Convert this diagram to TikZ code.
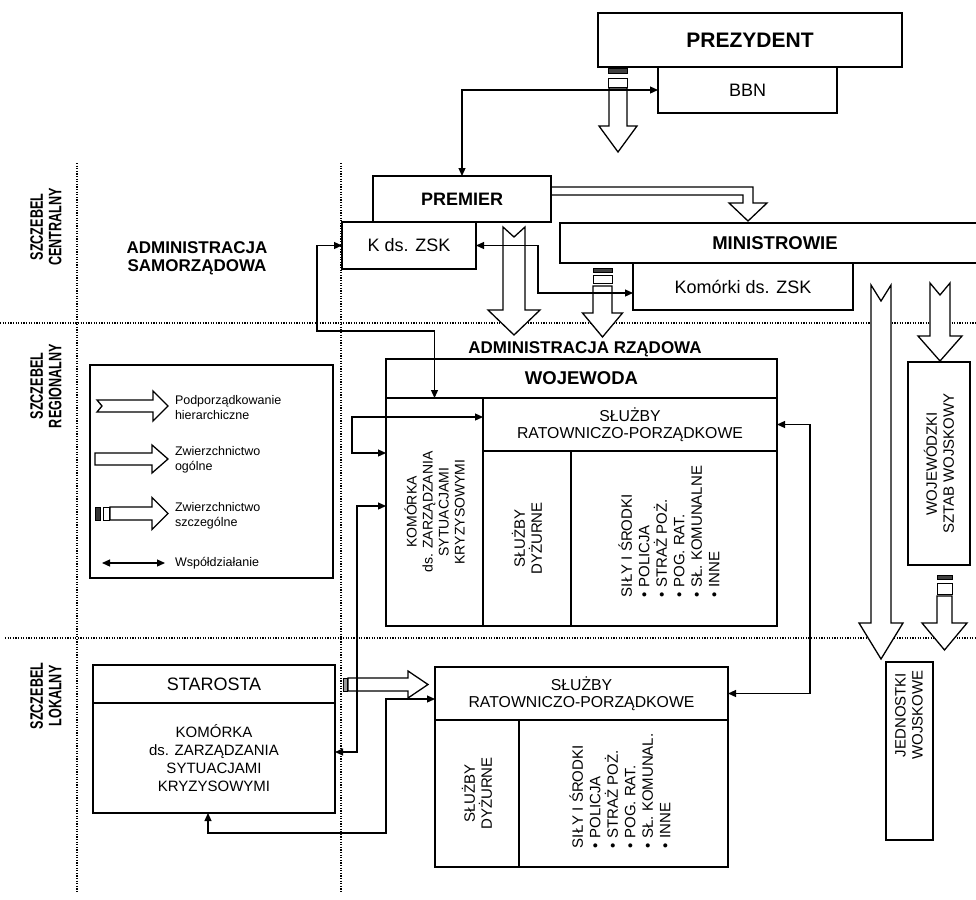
\documentclass[tikz,border=0pt]{standalone}
\usepackage{fontspec}
\setmainfont{Liberation Sans}
\usepackage{graphicx}
\usetikzlibrary{arrows.meta,calc}
\newcommand\fsz[2]{\fontsize{#1}{#2}\selectfont}
% vertical hollow arrow: x, ytop, yhead, ytip, half shaft, half head, notch
\newcommand\varrow[7]{\draw[bigarrow] ({#1-#5},#2) -- ({#1},{#2+#7}) -- ({#1+#5},#2) -- ({#1+#5},#3) -- ({#1+#6},#3) -- (#1,#4) -- ({#1-#6},#3) -- ({#1-#5},#3) -- cycle;}
% horizontal hollow arrow: y, xtail, xhead, xtip, half shaft, half head, notch
\newcommand\harrow[7]{\draw[bigarrow] (#2,{#1-#5}) -- ({#2+#7},#1) -- (#2,{#1+#5}) -- (#3,{#1+#5}) -- (#3,{#1+#6}) -- (#4,#1) -- (#3,{#1-#6}) -- (#3,{#1-#5}) -- cycle;}
% special-authority marks above a vertical arrow: x, half width, bar top, bar bottom, rect top, rect bottom
\newcommand\vmarks[6]{\draw[line width=1pt, fill=black!75] ({#1-#2},#3) rectangle ({#1+#2},#4);
  \draw[line width=1pt, fill=white] ({#1-#2},#5) rectangle ({#1+#2},#6);}
\newcommand\cond[1]{\scalebox{0.7}[1]{#1}}
\begin{document}
\begin{tikzpicture}[x=1pt,y=-1pt,
  box/.style={draw, fill=white, line width=1.5pt, inner sep=0pt, outer sep=0pt, anchor=north west, align=center},
  thickbox/.style={box, line width=2.3pt},
  midbox/.style={box, line width=1.9pt},
  outline/.style={draw, line width=2.3pt, inner sep=0pt, outer sep=0pt, anchor=north west},
  bigarrow/.style={draw, fill=white, line width=1.3pt, line join=miter},
  coop/.style={line width=1.2pt, {Triangle[length=8pt,width=7pt]}-{Triangle[length=8pt,width=7pt]}},
  dotline/.style={line width=1.1pt, dash pattern=on 1.1pt off 1.5pt},
  lbl/.style={inner sep=0pt, outer sep=0pt, align=center},
  bigb/.style={font=\bfseries\fsz{18.5}{21}},
  reg/.style={font=\fsz{18}{21}},
  lvl/.style={lbl, rotate=90, font=\bfseries\fsz{18}{18.5}},
]
\useasboundingbox (0,0) rectangle (976,899);

% ---------- dotted level lines ----------
\draw[dotline] (0,323) -- (976,323);
\draw[dotline] (5,638) -- (976,638);
\draw[dotline] (77,163) -- (77,892);
\draw[dotline] (341,163) -- (341,892);

% ---------- level labels ----------
\node[lvl] (lvC) at (46,227) {\cond{SZCZEBEL}\\\cond{CENTRALNY}};
\node[lvl] (lvR) at (46,386) {\cond{SZCZEBEL}\\\cond{REGIONALNY}};
\node[lvl] (lvL) at (46,696) {\cond{SZCZEBEL}\\\cond{LOKALNY}};

\node[lbl, font=\bfseries\fsz{17}{18}] (adminSam) at (197,258) {ADMINISTRACJA\\SAMORZĄDOWA};
\node[lbl, font=\bfseries\fsz{17}{18}] (adminRz) at (585,349) {ADMINISTRACJA RZĄDOWA};

% ---------- big hollow arrows ----------
% Prezydent (special)
\vmarks{618}{9.5}{68}{73}{78}{87}
\varrow{618}{88}{126}{152}{9}{19}{0}
% Premier -> Ministrowie (hierarchical, bent)
\draw[bigarrow] (551,187) -- (753,187) -- (753,203) -- (767,203) -- (748,221) -- (729,203) -- (743,203) -- (743,195) -- (551,195);
% Premier down (hierarchical)
\varrow{514}{227}{310}{335}{11}{26}{10}
% Ministrowie down (special)
\vmarks{602.5}{9.5}{268}{272}{275}{283}
\varrow{602.5}{286}{313}{337}{9.5}{20}{0}
% Ministrowie -> Jednostki (hierarchical)
\varrow{881}{285}{623}{659}{10}{22}{16}
% Ministrowie -> Sztab (hierarchical)
\varrow{940}{283}{336}{361}{10}{22}{12}
% Sztab -> Jednostki (special)
\vmarks{944.5}{7.5}{575}{579}{583}{594}
\varrow{944.5}{596}{623}{650}{7.5}{22.5}{0}
% Starosta -> sluzby lokalne
\draw[line width=0.8pt, fill=black!40] (343,678) rectangle (347,691);
\harrow{684.5}{348}{408}{428}{6.5}{13.5}{0}

% ---------- central level ----------
\node[box, reg, minimum width=179, minimum height=46] (bbn) at (658,67) {BBN};
\node[thickbox, font=\bfseries\fsz{21}{24}, minimum width=304, minimum height=54] (prez) at (598,13) {PREZYDENT};
\node[box, reg, minimum width=134, minimum height=47] (kzsk) at (342,222) {K ds. ZSK};
\node[thickbox, font=\bfseries\fsz{18}{21}, minimum width=178, minimum height=46] (premier) at (373,176) {PREMIER};
\node[box, reg, minimum width=220, minimum height=47] (komorki) at (633,263) {Komórki ds. ZSK};
\node[thickbox, bigb, minimum width=430, minimum height=40] (minis) at (560,223) {MINISTROWIE};

% ---------- regional level ----------
\node[box, bigb, minimum width=391, minimum height=39] (wojewoda) at (386,359) {WOJEWODA};
\node[box, minimum width=97, minimum height=228] (komorka) at (386,398) {};
\node[box, font=\fsz{15.8}{17}, minimum width=294, minimum height=53] (sluzW) at (483,398) {SŁUŻBY\\RATOWNICZO-PORZĄDKOWE};
\node[box, minimum width=88, minimum height=175] (dyzW) at (483,451) {};
\node[box, minimum width=206, minimum height=175] (silyW) at (571,451) {};
\node[outline, minimum width=391, minimum height=267] (wojbox) at (386,359) {};
\node[lbl, rotate=90, font=\fsz{14}{16}] (komorkaT) at (komorka.center) {KOMÓRKA\\ds. ZARZĄDZANIA\\SYTUACJAMI\\KRYZYSOWYMI};
\node[lbl, rotate=90, font=\fsz{15}{17}] (dyzWT) at (dyzW.center) {SŁUŻBY\\DYŻURNE};
\node[lbl, rotate=90, align=left, anchor=west, font=\fsz{15}{17.5}] (silyWT) at (669,597) {SIŁY I ŚRODKI\\• POLICJA\\• STRAŻ POŻ.\\• POG. RAT.\\• SŁ. KOMUNALNE\\• INNE};

\node[midbox, minimum width=62, minimum height=203] (sztab) at (908,362) {};
\node[lbl, rotate=90, font=\fsz{15}{17}] (sztabT) at (sztab.center) {WOJEWÓDZKI\\SZTAB WOJSKOWY};

% ---------- legend ----------
\node[box, line width=1.2pt, minimum width=243, minimum height=213] (legend) at (90,365) {};
\harrow{406}{97}{153}{168}{6}{15}{5}
\harrow{459}{95}{152}{168}{6}{14}{0}
\draw[line width=0.8pt, fill=black!80] (95,507) rectangle (100,520);
\draw[line width=1pt, fill=white] (103,507) rectangle (109,520);
\harrow{513.5}{110}{152}{168}{6.5}{16}{0}
\coordinate (lgA) at (102,563);
\coordinate (lgB) at (165,563);
\draw[coop] (lgA) -- (lgB);
\node[lbl, anchor=west, align=left, font=\fsz{12.5}{15}] (lg1) at (175,407.5) {Podporządkowanie\\hierarchiczne};
\node[lbl, anchor=west, align=left, font=\fsz{12.5}{15}] (lg2) at (175,460) {Zwierzchnictwo\\ogólne};
\node[lbl, anchor=west, align=left, font=\fsz{12.5}{15}] (lg3) at (175,515.5) {Zwierzchnictwo\\szczególne};
\node[lbl, anchor=west, align=left, font=\fsz{12.5}{15}] (lg4) at (175,563) {Współdziałanie};

% ---------- local level ----------
\node[box, font=\fsz{18}{21}, minimum width=242, minimum height=38] (starosta) at (93,665) {STAROSTA};
\node[box, font=\fsz{15}{18}, minimum width=242, minimum height=110] (stKom) at (93,703) {KOMÓRKA\\ds. ZARZĄDZANIA\\SYTUACJAMI\\KRYZYSOWYMI};
\node[outline, line width=1.9pt, minimum width=242, minimum height=148] (stbox) at (93,665) {};

\node[box, font=\fsz{15.8}{17}, minimum width=293, minimum height=53] (sluzL) at (435,667) {SŁUŻBY\\RATOWNICZO-PORZĄDKOWE};
\node[box, minimum width=84, minimum height=147] (dyzL) at (435,720) {};
\node[box, minimum width=209, minimum height=147] (silyL) at (519,720) {};
\node[outline, line width=1.9pt, minimum width=293, minimum height=200] (lokbox) at (435,667) {};
\node[lbl, rotate=90, font=\fsz{15}{17}] (dyzLT) at (dyzL.center) {SŁUŻBY\\DYŻURNE};
\node[lbl, rotate=90, align=left, anchor=west, font=\fsz{15}{17.5}] (silyLT) at (620,848) {SIŁY I ŚRODKI\\• POLICJA\\• STRAŻ POŻ.\\• POG. RAT.\\• SŁ. KOMUNAL.\\• INNE};

\node[midbox, minimum width=47, minimum height=178] (jedn) at (886,662) {};
\node[lbl, rotate=90, font=\fsz{15}{17}] (jednT) at (909,715) {JEDNOSTKI\\WOJSKOWE};

% ---------- cooperation connectors ----------
\draw[coop] (bbn.west) -| (premier.north);
\coordinate (c2) at (538,293);
\draw[coop] (kzsk.east) -| (c2) -- (komorki.west |- c2);
\coordinate (c3) at (317,331);
\draw[coop] (kzsk.west) -| (c3) -| (komorka.north);
\coordinate (c4a) at (352,417);
\coordinate (c4b) at (352,453);
\draw[coop] (sluzW.west |- c4a) -- (c4a) -- (c4b) -- (komorka.west |- c4b);
\coordinate (c5a) at (357,506);
\coordinate (c5b) at (357,752);
\draw[coop] (komorka.west |- c5a) -- (c5a) -- (c5b) -- (stKom.east |- c5b);
\coordinate (c6a) at (386,699);
\coordinate (c6b) at (386,833);
\coordinate (c6c) at (208,833);
\draw[coop] (sluzL.west |- c6a) -- (c6a) -- (c6b) -- (c6c) -- (c6c |- stKom.south);
\draw[coop] (sluzW.east) -- ++(33,0) |- (sluzL.east);
\end{tikzpicture}
\end{document}
